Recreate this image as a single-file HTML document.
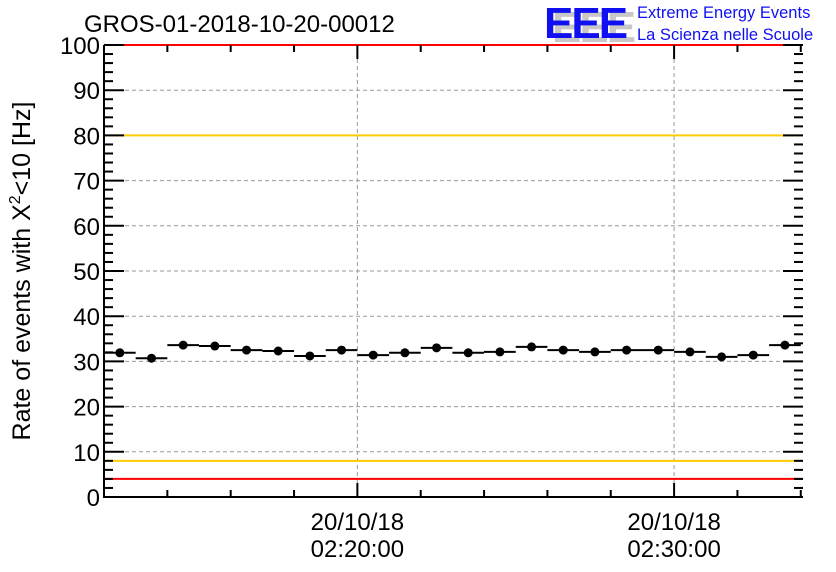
<!DOCTYPE html>
<html><head><meta charset="utf-8"><style>
body{margin:0;background:#fff;}
svg{display:block;font-family:"Liberation Sans",sans-serif;}
</style></head><body>
<svg id="c" width="836" height="572">
<text x="84" y="32" font-size="24">GROS-01-2018-10-20-00012</text>
<g>
<text x="552" y="42" font-size="44" font-weight="bold" fill="#c8c8c8" letter-spacing="-2">EEE</text>
<text x="544" y="38" font-size="44" font-weight="bold" fill="#1010f0" letter-spacing="-2">EEE</text>
<text x="637" y="18" font-size="16.5" fill="#1010f0">Extreme Energy Events</text>
<text x="637" y="40" font-size="16.5" fill="#1010f0">La Scienza nelle Scuole</text>
</g>
<text transform="translate(30,271) rotate(-90)" text-anchor="middle" font-size="25">Rate of events with X<tspan dy="-10" font-size="16">2</tspan><tspan dy="10">&lt;10 [Hz]</tspan></text>
<g id="grid"></g><g id="ref"></g><g id="marks"></g><g id="axes"></g>
</svg>
<script>
const binStartMinutes = [-8,-7,-6,-5,-4,-3,-2,-1,0,1,2,3,4,5,6,7,8,9,10,11,12,13];
const rateValues = [31.9,30.7,33.6,33.4,32.5,32.3,31.2,32.5,31.4,31.9,33.0,31.9,32.1,33.2,32.5,32.1,32.5,32.5,32.1,31.0,31.4,33.6];
const yTickLabels = [0,10,20,30,40,50,60,70,80,90,100];
const xTickMinutes = [0,10];
const xTickLabels = [["20/10/18","02:20:00"],["20/10/18","02:30:00"]];
const refLines = [{v:100,c:"#ff0000"},{v:80,c:"#ffcc00"},{v:8,c:"#ffcc00"},{v:4,c:"#ff0000"}];
const L=104,R=803,T=45,B=497, xMin=-8, xMax=14.07;
const NS="http://www.w3.org/2000/svg";
const X=m=>L+(m-xMin)/(xMax-xMin)*(R-L);
const Y=v=>B-v/100*(B-T);
function el(p,t,a){const e=document.createElementNS(NS,t);for(const k in a)e.setAttribute(k,a[k]);p.appendChild(e);return e;}
const grid=document.getElementById('grid'),ref=document.getElementById('ref'),marks=document.getElementById('marks'),axes=document.getElementById('axes');
yTickLabels.forEach(v=>{
 if(v>0&&v<100){const g=el(grid,'line',{x1:L,x2:R,y1:Y(v),y2:Y(v),stroke:'#999','stroke-dasharray':'4,3'});
 }
 const t=el(axes,'text',{x:L-4,y:Y(v)+9,'text-anchor':'end','font-size':24});t.textContent=v;
 
});
xTickMinutes.forEach((m,i)=>{
 const g=el(grid,'line',{x1:X(m),x2:X(m),y1:T,y2:B,stroke:'#999','stroke-dasharray':'4,3'});
 
 xTickLabels[i].forEach((s,j)=>{const t=el(axes,'text',{x:X(m),y:530+j*27,'text-anchor':'middle','font-size':24});t.textContent=s;
 });
});
refLines.forEach(r=>{const l=el(ref,'line',{x1:L,x2:R,y1:Y(r.v),y2:Y(r.v),stroke:r.c,'stroke-width':2});
 });
rateValues.forEach((v,i)=>{
 const m=binStartMinutes[i];
 const l=el(marks,'line',{x1:X(m),x2:X(m+1),y1:Y(v),y2:Y(v),stroke:'#000','stroke-width':2});
 
 const c=el(marks,'circle',{cx:X(m+0.5),cy:Y(v),r:4.5,fill:'#000'});
 
});
const f=el(axes,'path',{d:`M${L},${T}V${B}H${R}`,stroke:'#000','stroke-width':2,fill:'none'});

for(let v=0;v<=100;v+=2){const big=v%10==0;
 const a=el(axes,'line',{x1:L,x2:L+(big?20:9),y1:Y(v),y2:Y(v),stroke:'#000','stroke-width':2});
 
 const b=el(axes,'line',{x1:R,x2:R-(big?20:9),y1:Y(v),y2:Y(v),stroke:'#000','stroke-width':2});
 }
for(let m=-6;m<=14;m+=2){const big=m%10==0;
 const a=el(axes,'line',{x1:X(m),x2:X(m),y1:B,y2:B-(big?14:7),stroke:'#000','stroke-width':2});
 
 const b=el(axes,'line',{x1:X(m),x2:X(m),y1:T,y2:T+(big?14:7),stroke:'#000','stroke-width':2});
 }
</script>
</body></html>
